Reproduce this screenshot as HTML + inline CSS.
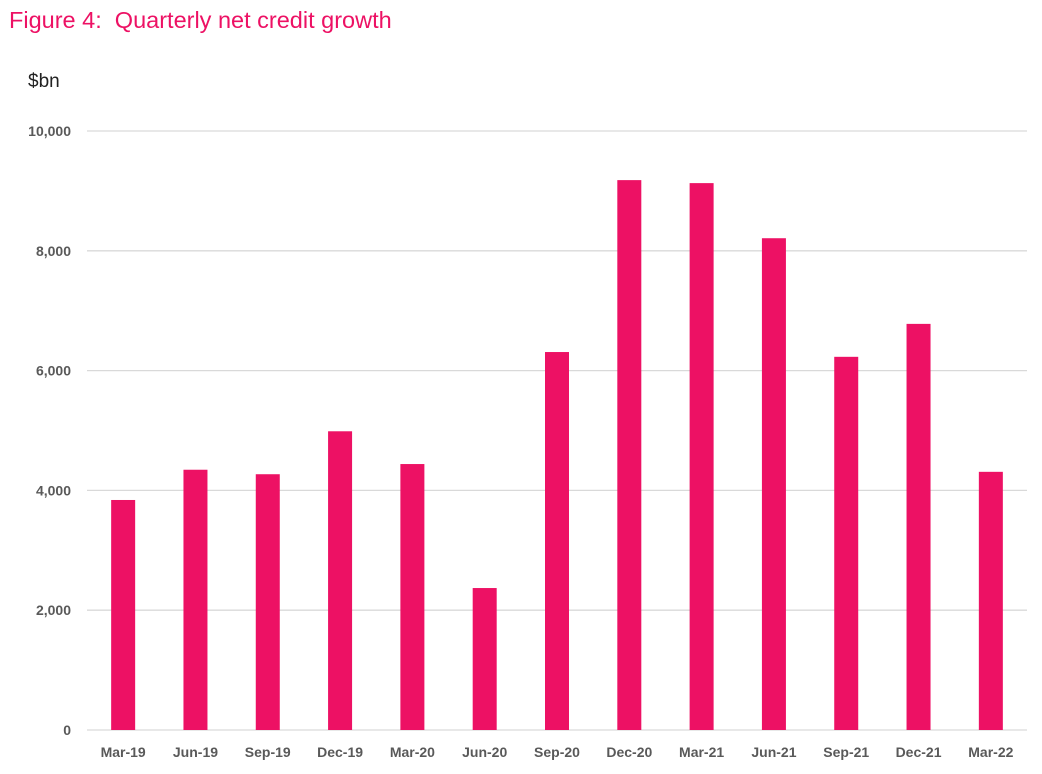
<!DOCTYPE html>
<html><head><meta charset="utf-8"><style>
body{margin:0;background:#fff;width:1042px;height:774px;overflow:hidden;font-family:"Liberation Sans",sans-serif}
</style></head><body>
<div style="position:absolute;left:9px;top:7px;font-size:23.5px;color:#ed1164">Figure 4:&nbsp; Quarterly net credit growth</div>
<div style="position:absolute;left:28px;top:71px;font-size:19px;color:#222">$bn</div>
<svg id="c" width="1042" height="774" style="position:absolute;left:0;top:0"></svg>
<script>
const categories=["Mar-19","Jun-19","Sep-19","Dec-19","Mar-20","Jun-20","Sep-20","Dec-20","Mar-21","Jun-21","Sep-21","Dec-21","Mar-22"];
const values=[3840,4345,4270,4987,4440,2370,6310,9180,9130,8210,6230,6780,4310];
const yTicks=[0,2000,4000,6000,8000,10000];
const yTickLabels=["0","2,000","4,000","6,000","8,000","10,000"];
const svg=document.getElementById('c');const NS='http://www.w3.org/2000/svg';
const L=87,R=1027,T=131,B=730,yMax=10000;
const y=v=>B-(v/yMax)*(B-T);
const band=(R-L)/categories.length;
const x=i=>L+band*(i+0.5);
function mk(t,a){const e=document.createElementNS(NS,t);for(const k in a)e.setAttribute(k,a[k]);svg.appendChild(e);return e;}
yTicks.forEach((v,i)=>{
 const g=mk('line',{x1:L,x2:R,y1:y(v),y2:y(v),stroke:'#d9d9d9','stroke-width':1.3});
 
 
 const t=mk('text',{x:71,y:y(v)+5,'text-anchor':'end','font-size':14,'font-weight':'bold',fill:'#595959'});
 t.textContent=yTickLabels[i];
 
 
});
values.forEach((v,i)=>{
 const r=mk('rect',{x:x(i)-12,y:y(v),width:24,height:B-y(v),fill:'#ed1164'});
 
 
 const t=mk('text',{x:x(i),y:757,'text-anchor':'middle','font-size':14,'font-weight':'bold',fill:'#595959'});
 t.textContent=categories[i];
 
 
});
</script>
</body></html>
